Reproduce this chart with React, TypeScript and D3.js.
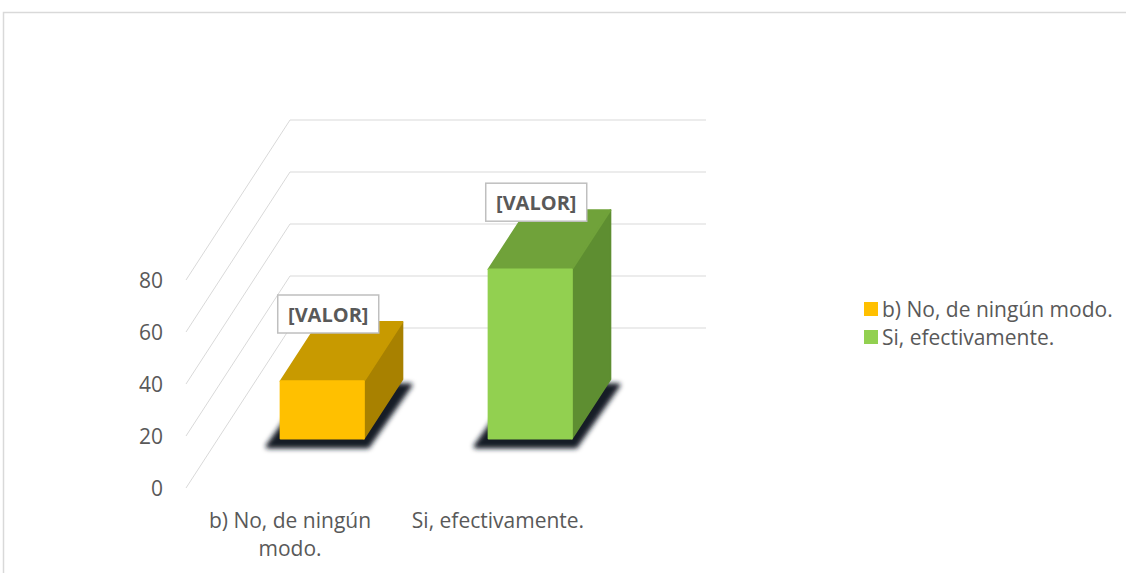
import * as d3 from "d3";
import { useEffect, useRef } from "react";

const categories = ["b) No, de ningún modo.", "Si, efectivamente."];
const values = [22, 65];
const labels = ["[VALOR]", "[VALOR]"];
const ticks = [0, 20, 40, 60, 80];

const fronts = ["#FFC000", "#92D050"];
const tops = ["#C89A00", "#70A23A"];
const sides = ["#A88100", "#5E8E31"];

export default function App() {
    const svgRef = useRef<SVGSVGElement>(null);

    useEffect(() => {
        document.body.style.margin = "0";
        const svg = d3.select(svgRef.current);
        svg.selectAll("*").remove();

        const width = 1126;
        const height = 573;
        const font = "'Open Sans', sans-serif";
        const textColor = "#595959";

        // oblique depth vector (front floor -> back wall)
        const depthX = 104;
        const depthY = -160;
        const f0 = 0.31;
        const f1 = 0.68;

        const x = d3.scaleBand().domain(categories).range([186, 602]);
        const y = d3.scaleLinear().domain([0, 80]).range([488, 280]);

        // chart border
        svg.append("rect")
            .attr("x", 3.5)
            .attr("y", 12.5)
            .attr("width", width + 50)
            .attr("height", height + 50)
            .attr("fill", "#fff")
            .attr("stroke", "#d9d9d9")
            .attr("stroke-width", 1.5);

        const defs = svg.append("defs");
        defs.append("filter")
            .attr("id", "shadow")
            .attr("x", "-30%").attr("y", "-30%")
            .attr("width", "160%").attr("height", "160%")
            .append("feGaussianBlur")
            .attr("stdDeviation", 2.5);

        // gridlines: side diagonals + back wall
        const grid = svg.append("g").attr("stroke", "#d9d9d9").attr("stroke-width", 1).attr("fill", "none");
        ticks.forEach(t => {
            const x0 = x.range()[0];
            const x1 = x.range()[1];
            grid.append("path")
                .attr("d", `M${x0},${y(t)}L${x0 + depthX},${y(t) + depthY}L${x1 + depthX},${y(t) + depthY}`);
        });

        // y tick labels
        svg.append("g")
            .selectAll("text")
            .data(ticks)
            .join("text")
            .attr("x", 163)
            .attr("y", d => y(d))
            .attr("text-anchor", "end")
            .attr("dominant-baseline", "central")
            .attr("font-family", font)
            .attr("font-size", 21)
            .attr("fill", textColor)
            .text(d => d);

        const barW = x.bandwidth() * 0.4;
        const ddx = (f1 - f0) * depthX;
        const ddy = (f1 - f0) * depthY;

        const bars = svg.append("g");
        categories.forEach((c, i) => {
            const cx = x(c)! + x.bandwidth() / 2 + f0 * depthX;
            const xl = cx - barW / 2;
            const xr = cx + barW / 2;
            const yb = y(0) + f0 * depthY;
            const yt = y(values[i]) + f0 * depthY;

            // shadow of footprint
            bars.append("path")
                .attr("d", `M${xl - 13},${yb + 8}L${xr + 4},${yb + 8}L${xr + ddx + 8},${yb + ddy + 6}L${xl + ddx - 8},${yb + ddy + 6}Z`)
                .attr("fill", "#151a28")
                .attr("stroke", "#151a28")
                .attr("stroke-width", 4)
                .attr("stroke-linejoin", "round")
                .attr("filter", "url(#shadow)");

            const faces = [
                { d: `M${xr},${yt}L${xr + ddx},${yt + ddy}L${xr + ddx},${yb + ddy}L${xr},${yb}Z`, fill: sides[i] },
                { d: `M${xl},${yt}L${xr},${yt}L${xr + ddx},${yt + ddy}L${xl + ddx},${yt + ddy}Z`, fill: tops[i] },
                { d: `M${xl},${yt}L${xr},${yt}L${xr},${yb}L${xl},${yb}Z`, fill: fronts[i] },
            ];
            faces.forEach(f => {
                bars.append("path")
                    .attr("d", f.d)
                    .attr("fill", f.fill)
                    .attr("stroke", f.fill)
                    .attr("stroke-width", 2)
                    .attr("stroke-linejoin", "round");
            });

            // data label
            const lx = cx + 6;
            const ly = yt + ddy - 8;
            const g = svg.append("g").attr("transform", `translate(${lx},${ly})`);
            g.append("rect")
                .attr("x", -50.5)
                .attr("y", -19)
                .attr("width", 101)
                .attr("height", 38)
                .attr("fill", "#fff")
                .attr("stroke", "#bfbfbf")
                .attr("stroke-width", 1.5);
            g.append("text")
                .attr("text-anchor", "middle")
                .attr("dominant-baseline", "central")
                .attr("font-family", font)
                .attr("font-weight", "bold")
                .attr("font-size", 20)
                .attr("fill", textColor)
                .text(labels[i]);
        });

        // category labels with wrapping
        categories.forEach(c => {
            const t = svg.append("text")
                .attr("x", x(c)! + x.bandwidth() / 2)
                .attr("y", 520)
                .attr("text-anchor", "middle")
                .attr("dominant-baseline", "central")
                .attr("font-family", font)
                .attr("font-size", 21)
                .attr("fill", textColor);
            const words = c.split(" ");
            let line: string[] = [];
            let tspan = t.append("tspan").attr("x", x(c)! + x.bandwidth() / 2).attr("dy", 0);
            words.forEach(w => {
                line.push(w);
                tspan.text(line.join(" "));
                if ((tspan.node() as SVGTSpanElement).getComputedTextLength() > 195 && line.length > 1) {
                    line.pop();
                    tspan.text(line.join(" "));
                    line = [w];
                    tspan = t.append("tspan")
                        .attr("x", x(c)! + x.bandwidth() / 2)
                        .attr("dy", 28)
                        .text(w);
                }
            });
        });

        // legend
        const legend = svg.append("g").attr("transform", "translate(864, 302)");
        categories.forEach((c, i) => {
            const lg = legend.append("g").attr("transform", `translate(0, ${i * 28})`);
            lg.append("rect")
                .attr("width", 14)
                .attr("height", 14)
                .attr("fill", fronts[i]);
            lg.append("text")
                .attr("x", 18)
                .attr("y", 7)
                .attr("dominant-baseline", "central")
                .attr("font-family", font)
                .attr("font-size", 21)
                .attr("fill", textColor)
                .text(c);
        });
    }, []);

    return <svg ref={svgRef} width={1126} height={573} style={{ display: "block" }} />;
}
